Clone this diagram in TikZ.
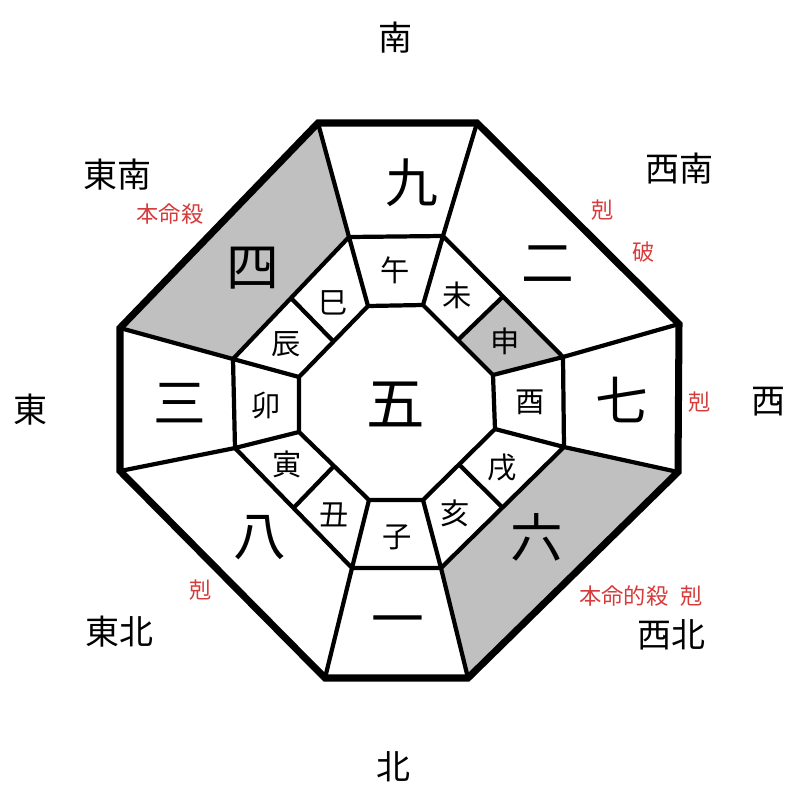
\documentclass[tikz,border=0pt]{standalone}
\usepackage{fontspec}
\setmainfont{Noto Sans CJK JP}
\usetikzlibrary{calc}
\definecolor{kokured}{RGB}{214,60,60}
\definecolor{cellgray}{RGB}{192,192,192}
\tikzset{
  hoi/.style={font=\fontsize{29}{29}\selectfont},
  sei/.style={font=\fontsize{45}{45}\selectfont},
  shi/.style={font=\fontsize{25}{25}\selectfont},
  aka/.style={text=kokured,font=\fontsize{19}{19}\selectfont},
  ring/.style={line width=3.6pt},
  waku/.style={line width=6pt},
}
\begin{document}
\begin{tikzpicture}[x=0.03cm,y=-0.03cm]
  \useasboundingbox (0,0) rectangle (800,800);
  % 外側・中間・内側の八角形の頂点
  \coordinate (oa) at (318,123); \coordinate (ob) at (477,123);
  \coordinate (oc) at (679,324); \coordinate (od) at (678,472);
  \coordinate (oe) at (468,678); \coordinate (of) at (325,678);
  \coordinate (og) at (120,471); \coordinate (oh) at (120,328);
  \coordinate (ma) at (349,237); \coordinate (mb) at (443,236);
  \coordinate (mc) at (563,357); \coordinate (md) at (564,447);
  \coordinate (me) at (441,568); \coordinate (mf) at (352,568);
  \coordinate (mg) at (235,448); \coordinate (mh) at (233,359);
  \coordinate (ia) at (368,306); \coordinate (ib) at (423,305);
  \coordinate (ic) at (493,375); \coordinate (id) at (495,429);
  \coordinate (ie) at (423,500); \coordinate (if) at (369,500);
  \coordinate (ig) at (299,432); \coordinate (ih) at (299,377);
  % 斜めの辺の中点（十二支の仕切り）
  \coordinate (in1) at ($(ib)!0.5!(ic)$); \coordinate (mn1) at ($(mb)!0.5!(mc)$);
  \coordinate (in2) at ($(id)!0.5!(ie)$); \coordinate (mn2) at ($(md)!0.5!(me)$);
  \coordinate (in3) at ($(if)!0.5!(ig)$); \coordinate (mn3) at ($(mf)!0.5!(mg)$);
  \coordinate (in4) at ($(ih)!0.5!(ia)$); \coordinate (mn4) at ($(mh)!0.5!(ma)$);
  % 灰色のマス（四・六・申）
  \fill[cellgray] (oa) -- (ma) -- (mh) -- (oh) -- cycle;
  \fill[cellgray] (od) -- (md) -- (me) -- (oe) -- cycle;
  \fill[cellgray] (in1) -- (mn1) -- (mc) -- (ic) -- cycle;
  % 内側と中間の八角形、放射線、仕切り
  \draw[ring] (ia) -- (ib) -- (ic) -- (id) -- (ie) -- (if) -- (ig) -- (ih) -- cycle;
  \draw[ring] (ma) -- (mb) -- (mc) -- (md) -- (me) -- (mf) -- (mg) -- (mh) -- cycle;
  \foreach \v in {a,b,c,d,e,f,g,h}
    \draw[ring] (i\v) -- (m\v) -- (o\v);
  \foreach \k in {1,2,3,4}
    \draw[ring] (in\k) -- (mn\k);
  % 外枠
  \draw[waku] (oa) -- (ob) -- (oc) -- (od) -- (oe) -- (of) -- (og) -- (oh) -- cycle;
  % 九星
  \node[sei] (kyu) at (412,183) {九};
  \node[sei] (ni) at (548,264) {二};
  \node[sei] (shichi) at (622,400) {七};
  \node[sei] (roku) at (537,537) {六};
  \node[sei] (ichi) at (398,627) {一};
  \node[sei] (hachi) at (260,538) {八};
  \node[sei] (san) at (180,403) {三};
  \node[sei] (yon) at (253,268) {四};
  \node[sei,font=\fontsize{50}{50}\selectfont] (go) at (396,404) {五};
  % 十二支
  \node[shi] (uma) at (395,270) {午};
  \node[shi] (hitsuji) at (457,295) {未};
  \node[shi] (saru) at (505,341) {申};
  \node[shi] (tori) at (530,402) {酉};
  \node[shi] (inu) at (502,468) {戌};
  \node[shi] (i) at (455,513) {亥};
  \node[shi] (ne) at (397,537) {子};
  \node[shi] (ushi) at (334,515) {丑};
  \node[shi] (tora) at (287,464) {寅};
  \node[shi] (u) at (266,405) {卯};
  \node[shi] (tatsu) at (286,344) {辰};
  \node[shi] (mi) at (333,303) {巳};
  % 方位
  \node[hoi] (minami) at (395,38) {南};
  \node[hoi] (kita) at (393,767) {北};
  \node[hoi] (higashi) at (30,410) {東};
  \node[hoi] (nishi) at (768,402) {西};
  \node[hoi] (tounan) at (117,175) {東南};
  \node[hoi] (seinan) at (679,169) {西南};
  \node[hoi] (touhoku) at (119,632) {東北};
  \node[hoi] (seihoku) at (671,635) {西北};
  % 凶方位の注記
  \node[aka] (honmeisatsu) at (170,214) {本命殺};
  \node[aka] (koku1) at (603,210) {剋};
  \node[aka] (ha) at (644,252) {破};
  \node[aka] (koku2) at (700,402) {剋};
  \node[aka] (koku3) at (201,590) {剋};
  \node[aka] (honmeiteki) at (641,596) {本命的殺\hspace{0.55em}剋};
\end{tikzpicture}
\end{document}
